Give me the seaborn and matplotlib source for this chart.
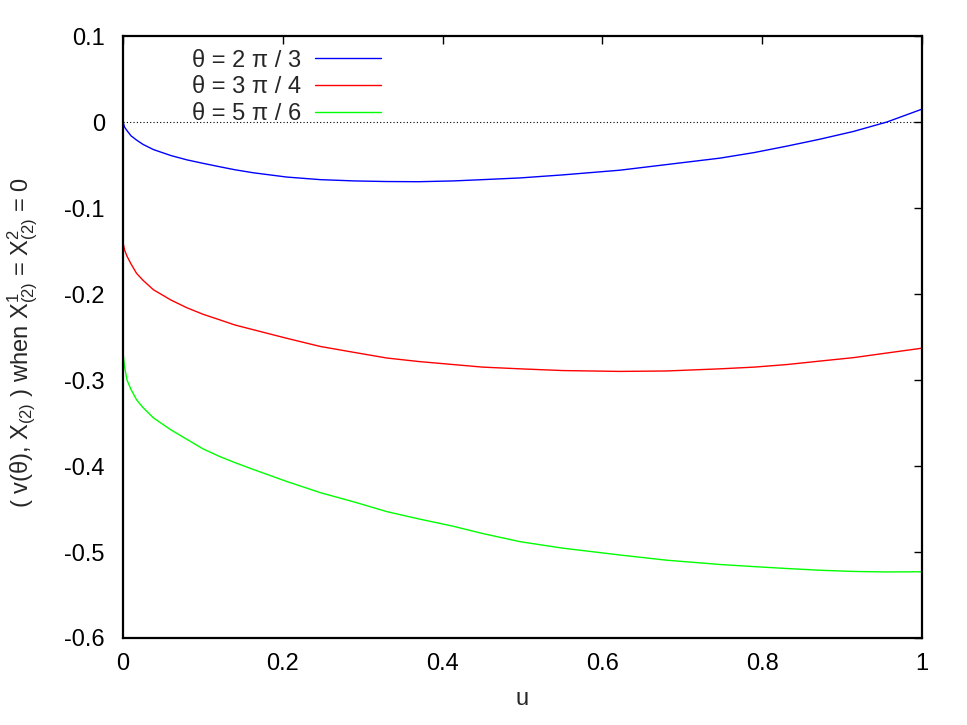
import numpy as np
import pandas as pd
import matplotlib
matplotlib.use("Agg")
import matplotlib.pyplot as plt
import seaborn as sns

# ---- data ----
u = [0, 0.002, 0.005, 0.01, 0.017, 0.025, 0.038, 0.06, 0.08, 0.1, 0.121,
     0.14, 0.163, 0.205, 0.247, 0.29, 0.33, 0.37, 0.413, 0.45, 0.497, 0.55,
     0.622, 0.68, 0.747, 0.79, 0.831, 0.872, 0.914, 0.956, 1.0]
v_2pi3 = [0.0, -0.006, -0.010, -0.016, -0.021, -0.026, -0.032, -0.039, -0.044,
          -0.048, -0.052, -0.0555, -0.059, -0.064, -0.067, -0.0685, -0.0692,
          -0.0694, -0.0685, -0.067, -0.065, -0.0615, -0.056, -0.0495, -0.042,
          -0.0355, -0.028, -0.020, -0.011, 0.0, 0.015]
v_3pi4 = [-0.140, -0.149, -0.156, -0.165, -0.176, -0.184, -0.195, -0.207,
          -0.216, -0.2235, -0.230, -0.236, -0.2415, -0.2515, -0.261, -0.268,
          -0.2744, -0.2785, -0.282, -0.285, -0.287, -0.289, -0.290, -0.2895,
          -0.287, -0.285, -0.282, -0.278, -0.274, -0.2686, -0.263]
v_5pi6 = [-0.268, -0.285, -0.300, -0.311, -0.323, -0.332, -0.344, -0.358,
          -0.369, -0.380, -0.389, -0.396, -0.404, -0.418, -0.431, -0.442,
          -0.453, -0.4615, -0.470, -0.4785, -0.488, -0.4955, -0.5035, -0.5095,
          -0.5145, -0.517, -0.5192, -0.5212, -0.5226, -0.5232, -0.523]
series_labels = ["θ = 2 π / 3", "θ = 3 π / 4", "θ = 5 π / 6"]
series_colors = ["#0000ff", "#ff0000", "#00ff00"]
x_ticks = [0, 0.2, 0.4, 0.6, 0.8, 1]
x_ticklabels = ["0", "0.2", "0.4", "0.6", "0.8", "1"]
y_ticks = [-0.6, -0.5, -0.4, -0.3, -0.2, -0.1, 0, 0.1]
y_ticklabels = ["-0.6", "-0.5", "-0.4", "-0.3", "-0.2", "-0.1", "0", "0.1"]

df = pd.concat([
    pd.DataFrame({"u": u, "v": vals, "theta": lab})
    for vals, lab in zip([v_2pi3, v_3pi4, v_5pi6], series_labels)
], ignore_index=True)

sns.set_theme(style="white")
plt.rcParams["font.family"] = ["Liberation Sans", "DejaVu Sans"]
plt.rcParams["mathtext.default"] = "regular"
plt.rcParams["axes.unicode_minus"] = False

fig = plt.figure(figsize=(9.67, 7.25), dpi=100)
ax = fig.add_axes([0.1272, 0.12, 0.8263, 0.8303])

ax.axhline(0, color="black", lw=0.8, ls=(0, (1, 2)), zorder=1)

sns.lineplot(data=df, x="u", y="v", hue="theta", palette=series_colors,
             hue_order=series_labels, linewidth=1.0, ax=ax, legend=True)

ax.set_xlim(0, 1)
ax.set_ylim(-0.6, 0.1)
ax.set_xticks(x_ticks)
ax.set_xticklabels(x_ticklabels)
ax.set_yticks(y_ticks)
ax.set_yticklabels(y_ticklabels)
ax.tick_params(direction="in", length=6, width=1, top=True, right=True,
               labelsize=17, colors="black")
ax.tick_params(axis="y", pad=13)
ax.tick_params(axis="x", pad=11)
for s in ax.spines.values():
    s.set_visible(True)
    s.set_color("black")
    s.set_linewidth(1.6)

ax.set_xlabel("u", fontsize=17, labelpad=9)
ax.set_ylabel(r"( v(θ), X$_{(2)}$ ) when X$^1_{(2)}$ = X$^2_{(2)}$ = 0",
              fontsize=17)
ax.yaxis.set_label_coords(-0.104, 0.49)

leg = ax.legend(loc="upper left", bbox_to_anchor=(0.071, 0.997), frameon=False,
                markerfirst=False, fontsize=17, handlelength=2.8,
                handletextpad=0.6, labelspacing=0.2, borderpad=0.0)

fig.savefig("out.png", dpi=100)
